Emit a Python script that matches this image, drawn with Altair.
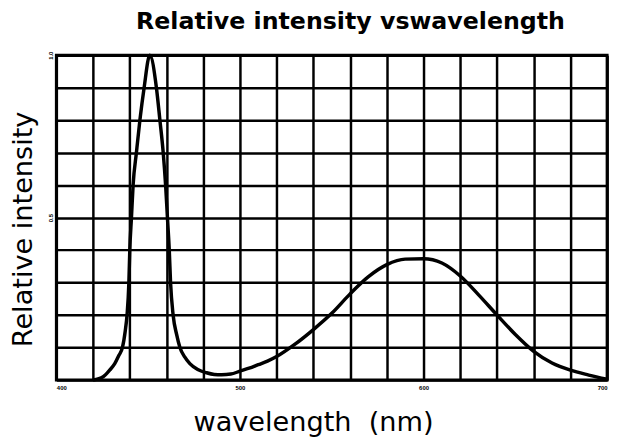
import altair as alt
import pandas as pd

wavelength = [420, 425.5, 429, 431.8, 434, 436, 437.5, 438.5, 439.5, 440, 440.9, 441.8, 443.6,
              445.5, 447.8, 450.9, 454.5, 456.4, 458.2, 459.5, 460.5, 461.5, 462.2, 463.6,
              465.5, 467.3, 470, 472.7, 477, 481.8, 486, 490, 495, 500, 505, 510, 515, 520,
              530, 540, 550, 560, 570, 580, 590, 600, 610, 620, 630, 640, 650, 660, 670,
              680, 690, 700]
intensity = [0.0, 0.01, 0.03, 0.05, 0.075, 0.1, 0.15, 0.2, 0.3, 0.4, 0.5, 0.6, 0.7,
             0.8, 0.9, 1.0, 0.9, 0.8, 0.7, 0.6, 0.5, 0.4, 0.3, 0.2,
             0.14, 0.1, 0.07, 0.05, 0.032, 0.022, 0.017, 0.016, 0.018, 0.027, 0.036, 0.047, 0.058, 0.072,
             0.11, 0.155, 0.205, 0.265, 0.318, 0.355, 0.372, 0.373, 0.36, 0.32, 0.262, 0.2, 0.14, 0.088, 0.052,
             0.03, 0.015, 0.002]

x_grid = list(range(400, 701, 20))
y_grid = [round(i * 0.1, 1) for i in range(11)]

df = pd.DataFrame({"wl": wavelength, "ri": intensity})

chart = alt.Chart(df).mark_line(color="black", strokeWidth=3.5, interpolate="monotone").encode(
    x=alt.X("wl:Q", scale=alt.Scale(domain=[400, 700], nice=False, zero=False),
            axis=alt.Axis(values=x_grid, grid=True, gridColor="black", gridWidth=2.5, gridOpacity=1,
                          ticks=False, domain=False, labelFontSize=6, labelColor="black",
                          labelExpr="indexof([400,500,600,700], datum.value) >= 0 ? datum.label : ''",
                          labelPadding=5, labelFontWeight="bold",
                          title="wavelength \u00a0(nm)", titleFont="DejaVu Sans", titleFontSize=27.5,
                          titleFontWeight="normal", titleColor="black", titleX=260, titleY=51,
                          titleBaseline="alphabetic", titleAnchor="middle")),
    y=alt.Y("ri:Q", scale=alt.Scale(domain=[0, 1], nice=False),
            axis=alt.Axis(values=y_grid, grid=True, gridColor="black", gridWidth=2.5, gridOpacity=1,
                          ticks=False, domain=False, labelFontSize=6, labelColor="black",
                          labelExpr="datum.value == 0.5 || datum.value == 1 ? datum.label : ''",
                          labelAngle=-90, labelPadding=3, labelFontWeight="bold",
                          title="Relative intensity", titleFont="DejaVu Sans", titleFontSize=27.5,
                          titleFontWeight="normal", titleColor="black", titleX=-25, titleY=176,
                          titleBaseline="alphabetic", titleAngle=-90, titleAnchor="middle")),
).properties(
    width=558, height=329,
    title=alt.TitleParams("Relative intensity vswavelength", font="DejaVu Sans", fontSize=24,
                          fontWeight="bold", color="black", anchor="middle", dx=19, offset=15),
    autosize=alt.AutoSizeParams(type="none"),
    padding={"left": 49, "top": 45, "right": 9, "bottom": 55},
).configure_view(stroke="black", strokeWidth=3)

chart.save("out.html", embed_options={"renderer": "svg", "actions": False})
